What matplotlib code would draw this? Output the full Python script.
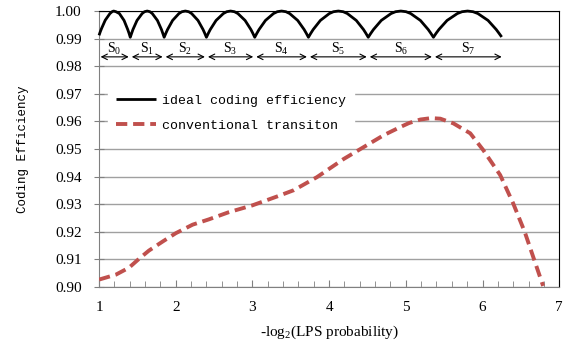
import matplotlib
matplotlib.use('Agg')
import matplotlib.pyplot as plt
import numpy as np

plt.rcParams['font.family'] = 'Liberation Serif'
plt.rcParams['mathtext.fontset'] = 'custom'
plt.rcParams['mathtext.rm'] = 'Liberation Serif'
plt.rcParams['mathtext.it'] = 'Liberation Serif'

# ideal coding efficiency (arcs between state boundaries)
ideal_x = [1.00, 1.016, 1.033, 1.081, 1.142, 1.17, 1.19, 1.22, 1.265, 1.326, 1.374, 1.391,
           1.407, 1.425, 1.442, 1.495, 1.562, 1.593, 1.628, 1.663, 1.694, 1.761, 1.814, 1.831,
           1.849, 1.871, 1.893, 1.959, 2.042, 2.081, 2.125, 2.169, 2.207, 2.290, 2.356, 2.378,
           2.40, 2.425, 2.450, 2.526, 2.621, 2.665, 2.715, 2.765, 2.810, 2.904, 2.980, 3.005,
           3.03, 3.058, 3.086, 3.170, 3.275, 3.324, 3.38, 3.436, 3.485, 3.59, 3.674, 3.702,
           3.73, 3.761, 3.792, 3.886, 4.003, 4.057, 4.12, 4.183, 4.237, 4.354, 4.448, 4.479,
           4.51, 4.544, 4.578, 4.68, 4.808, 4.867, 4.935, 5.003, 5.063, 5.19, 5.292, 5.326,
           5.36, 5.395, 5.431, 5.538, 5.672, 5.734, 5.805, 5.876, 5.939, 6.072, 6.179, 6.215, 6.25]
arc_y = [0.9905, 0.99195, 0.9933, 0.9966, 0.9991, 0.99976, 1.0, 0.99976, 0.9991, 0.9966, 0.9933, 0.99195]
ideal_y = [0.9912, 0.9925, 0.9937, 0.9967, 0.9991, 0.99976, 1.0, 0.99976, 0.9991, 0.9966, 0.9933, 0.99195] \
    + arc_y * 7 + [0.9906]

# conventional transition
conv_x = [1.00, 1.22, 1.39, 1.52, 1.65, 1.83, 2.00, 2.22, 2.43, 2.69, 3.00,
          3.32, 3.54, 3.84, 4.19, 4.45, 4.71, 4.93, 5.04, 5.19, 5.33, 5.45,
          5.62, 5.84, 6.01, 6.23, 6.40, 6.55, 6.66, 6.79]
conv_y = [0.9027, 0.9045, 0.9070, 0.9102, 0.9132, 0.9165, 0.9195, 0.9226, 0.9245, 0.9271, 0.9296,
          0.9328, 0.9351, 0.9398, 0.9464, 0.9507, 0.9550, 0.9580, 0.9594, 0.9607, 0.9612, 0.9610,
          0.9593, 0.9557, 0.9496, 0.9406, 0.9303, 0.9200, 0.9110, 0.9004]

# state boundaries S0..S7
bounds = [1.00, 1.407, 1.849, 2.40, 3.03, 3.73, 4.51, 5.36, 6.27]
states = ['S$_%d$' % i for i in range(8)]

fig = plt.figure(figsize=(5.66, 3.45), dpi=100)
ax = fig.add_axes([0.175, 0.168, 0.813, 0.800])

ax.set_xlim(1, 7)
ax.set_ylim(0.90, 1.00)
ax.set_yticks(np.arange(0.90, 1.001, 0.01))
ax.set_yticklabels(['%.2f' % v for v in np.arange(0.90, 1.001, 0.01)])
ax.set_xticks(range(1, 8))
ax.set_xticks(np.arange(1, 7.01, 0.2), minor=True)
ax.yaxis.grid(True, color='#a0a0a0', linewidth=1.0)
ax.set_axisbelow(True)

ax.plot(ideal_x, ideal_y, color='black', linewidth=2.0, solid_capstyle='butt',
        label='ideal coding efficiency', clip_on=False, zorder=3)
ax.plot(conv_x, conv_y, color='#c0504d', linewidth=2.8, dashes=(2.9, 1.5),
        label='conventional transiton', zorder=3)

ya = 0.9834
for i in range(8):
    ax.annotate('', xy=(bounds[i + 1] - 0.02, ya), xytext=(bounds[i] + 0.02, ya),
                arrowprops=dict(arrowstyle='<->', color='black', lw=0.8,
                                shrinkA=0, shrinkB=0, mutation_scale=10))
    ax.text((bounds[i] + bounds[i + 1]) / 2, 0.9861, states[i], ha='center', va='center',
            fontsize=10)

for s in ['left', 'bottom']:
    ax.spines[s].set_color('#808080')
for s in ['top', 'right']:
    ax.spines[s].set_color('black')

ax.tick_params(axis='x', which='both', direction='in', colors='#808080', labelcolor='black',
               labelsize=11, pad=10)
ax.tick_params(axis='x', which='major', length=5)
ax.tick_params(axis='x', which='minor', length=4)
ax.tick_params(axis='y', direction='inout', length=7, colors='#808080', labelcolor='black',
               labelsize=11, pad=9)

ax.set_xlabel('-log$_2$(LPS probability)', fontsize=11, labelpad=7)
ax.set_ylabel('Coding Efficiency', fontsize=9, family='Liberation Mono', labelpad=19)

leg = ax.legend(loc='upper left', bbox_to_anchor=(0.02, 0.725), borderaxespad=0,
                prop={'family': 'Liberation Mono', 'size': 9.5}, handlelength=3.0,
                handletextpad=0.5, borderpad=0.6, labelspacing=0.95,
                fancybox=False, framealpha=1)
leg.get_frame().set_edgecolor('white')

fig.savefig('out.png', dpi=100)
